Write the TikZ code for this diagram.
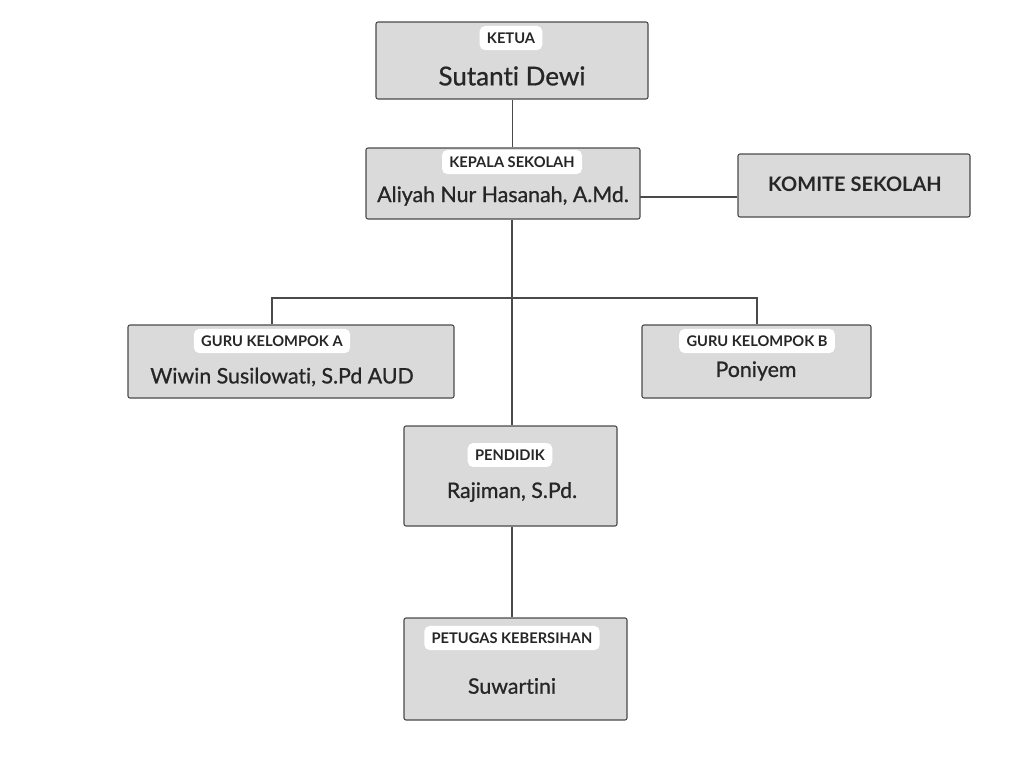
\documentclass[tikz,border=0pt]{standalone}
\usepackage{fontspec}
\setmainfont{Lato}[Ligatures={NoCommon}]
\newfontfamily\medfont{Lato}[Ligatures={NoCommon},UprightFeatures={FakeBold=0.8}]
\usetikzlibrary{backgrounds}
\definecolor{boxfill}{HTML}{DADADA}
\definecolor{boxline}{HTML}{4A4A4A}
\definecolor{txt}{HTML}{262626}
\begin{document}
\begin{tikzpicture}[x=0.75pt,y=-0.75pt,
  box/.style={draw=boxline,line width=0.8pt,fill=boxfill,rounded corners=1.5pt,inner sep=0pt},
  tag/.style={fill=white,rounded corners=4pt,text=txt,font=\bfseries\fontsize{11}{13}\selectfont,inner xsep=5.5pt,inner ysep=5pt},
  nm/.style={text=txt,font=\medfont\fontsize{16}{19}\selectfont},
  link/.style={draw=boxline,line width=0.8pt}]
\useasboundingbox (0,0) rectangle (1024,768);
% boxes
\node[box,minimum width=272*0.75pt,minimum height=77*0.75pt] (ketua) at (512,60.5) {};
\node[box,minimum width=274*0.75pt,minimum height=71*0.75pt] (kepala) at (503,183.5) {};
\node[box,minimum width=232*0.75pt,minimum height=63*0.75pt] (komite) at (854,185.5) {};
\node[box,minimum width=326*0.75pt,minimum height=73*0.75pt] (gurua) at (291,361.5) {};
\node[box,minimum width=229*0.75pt,minimum height=73*0.75pt] (gurub) at (756.5,361.5) {};
\node[box,minimum width=213*0.75pt,minimum height=100*0.75pt] (pendidik) at (510.5,476) {};
\node[box,minimum width=223*0.75pt,minimum height=102*0.75pt] (petugas) at (515.5,669) {};
% labels
\node[tag] (tketua) at (511,38) {KETUA};
\node[text=txt,font=\medfont\fontsize{19.5}{23}\selectfont] (nketua) at (512,76) {Sutanti Dewi};
\node[tag] (tkepala) at (512,162) {KEPALA SEKOLAH};
\node[nm] (nkepala) at (503,196) {Aliyah Nur Hasanah, A.Md.};
\node[text=txt,font=\bfseries\fontsize{15}{18}\selectfont] (nkomite) at (855,184) {KOMITE SEKOLAH};
\node[tag] (tgurua) at (272,341) {GURU KELOMPOK A};
\node[nm] (ngurua) at (282,377) {Wiwin Susilowati, S.Pd AUD};
\node[tag] (tgurub) at (757,341) {GURU KELOMPOK B};
\node[nm] (ngurub) at (756,371) {Poniyem};
\node[tag] (tpendidik) at (510,455) {PENDIDIK};
\node[nm] (npendidik) at (512,492) {Rajiman, S.Pd.};
\node[tag] (tpetugas) at (512,638) {PETUGAS KEBERSIHAN};
\node[nm] (npetugas) at (512,686) {Suwartini};
% connectors
\coordinate (hub) at (512,298);
\coordinate (hubL) at (272,298);
\coordinate (hubR) at (757,298);
\coordinate (kr) at (640,197);
\begin{scope}[on background layer]
\draw[link] (ketua.south) ++(0.5,0) coordinate (ks) -- (ks |- kepala.north);
\draw[link] (hub |- kepala.south) -- (hub |- pendidik.north);
\draw[link] (hubL |- gurua.north) -- (hubL) -- (hubR) -- (hubR |- gurub.north);
\draw[link] (kr) -- (kr -| komite.west);
\draw[link] (hub |- pendidik.south) -- (hub |- petugas.north);
\end{scope}
\end{tikzpicture}
\end{document}
